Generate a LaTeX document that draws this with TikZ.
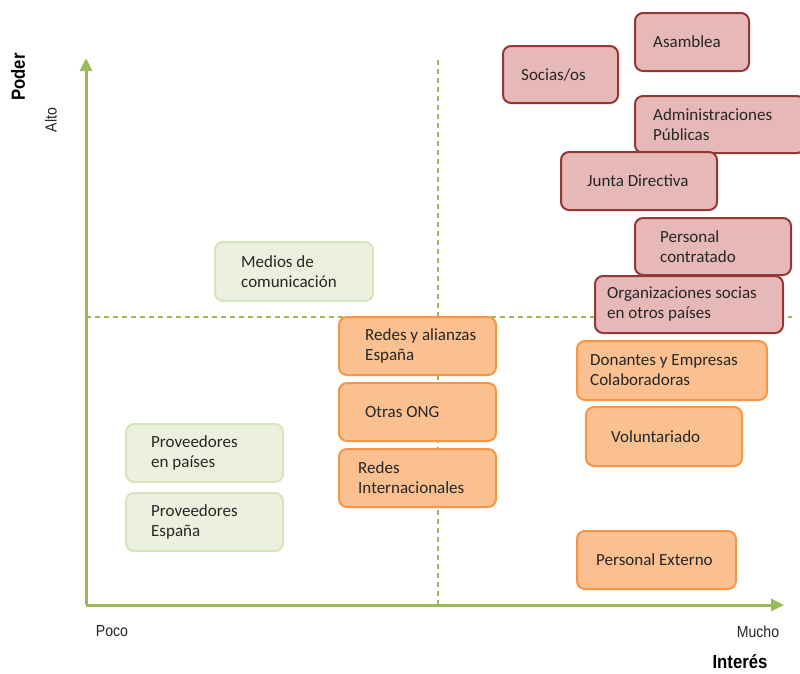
\documentclass[tikz,border=0pt]{standalone}
\usepackage{fontspec}
\setmainfont{Carlito}
\newfontfamily\axfont[FakeStretch=0.88]{Liberation Sans}
\usetikzlibrary{arrows.meta,calc}
\definecolor{redfill}{HTML}{E6B9B8}
\definecolor{redline}{HTML}{953735}
\definecolor{orfill}{HTML}{FAC090}
\definecolor{orline}{HTML}{F79646}
\definecolor{grfill}{HTML}{EBF1DE}
\definecolor{grline}{HTML}{D7E4BD}
\definecolor{axgreen}{HTML}{9BBB59}
\definecolor{txtcol}{HTML}{262626}
\tikzset{
  box/.style={draw, line width=2pt, rounded corners=8pt, anchor=north west, inner sep=0pt},
  redbox/.style={box, fill=redfill, draw=redline},
  orbox/.style={box, fill=orfill, draw=orline},
  grbox/.style={box, fill=grfill, draw=grline},
  txt/.style={anchor=west, align=left, inner sep=0pt, font=\fontsize{17}{20}\selectfont, text=txtcol},
  ax/.style={line width=3pt, draw=axgreen, -{Triangle[length=13pt,width=12pt]}},
  guide/.style={draw=axgreen, line width=1.2pt, dash pattern=on 5pt off 4pt},
  axlab/.style={inner sep=0pt, text=txtcol, font=\axfont\fontsize{16}{18}\selectfont},
  axtitle/.style={inner sep=0pt, text=black, font=\axfont\bfseries\fontsize{19}{21}\selectfont}
}
\begin{document}
\begin{tikzpicture}[x=1pt,y=-1pt]
\useasboundingbox (0,0) rectangle (800,673);
% guides
\coordinate (o) at (86,605);
\coordinate (gl) at (86,317);
\coordinate (gr) at (792,317);
\coordinate (gt) at (438,60);
\coordinate (gb) at (438,605);
\draw[guide] (gl) -- (gr);
\draw[guide] (gt) -- (gb);
% axes
\coordinate (ytop) at (86,58);
\coordinate (xend) at (784,605);
\draw[ax] (o) -- (ytop);
\draw[ax] (o) -- (xend);
% labels
\node[axtitle, rotate=90] (poder) at (18,77) {Poder};
\node[axlab, rotate=90] (alto) at (51,120) {Alto};
\node[axlab] (poco) at (112,631) {Poco};
\node[axlab] (mucho) at (758,632) {Mucho};
\node[axtitle] (interes) at (740,662) {Interés};
% red boxes
\node[redbox, minimum width=114, minimum height=58] (asam) at (634,12) {};
\node[txt] (tasam) at ($(asam.west)+(19,0)$) {Asamblea};
\node[redbox, minimum width=115, minimum height=57] (socias) at (502,45) {};
\node[txt] (tsocias) at ($(socias.west)+(19,0)$) {Socias/os};
\node[redbox, minimum width=170, minimum height=57] (admin) at (634,95) {};
\node[txt] (tadmin) at ($(admin.west)+(19,0)$) {Administraciones\\Públicas};
\node[redbox, minimum width=156, minimum height=58] (junta) at (560,151) {};
\node[txt] (tjunta) at ($(junta.west)+(27,0)$) {Junta Directiva};
\node[redbox, minimum width=156, minimum height=57] (pcont) at (634,217) {};
\node[txt] (tpcont) at ($(pcont.west)+(26,0)$) {Personal\\contratado};
\node[redbox, minimum width=188, minimum height=57] (orgs) at (594,275) {};
\node[txt] (torgs) at ($(orgs.west)+(13,0)$) {Organizaciones socias\\en otros países};
% green boxes
\node[grbox, minimum width=158, minimum height=59] (medios) at (214,241) {};
\node[txt] (tmedios) at ($(medios.west)+(27,0)$) {Medios de\\comunicación};
\node[grbox, minimum width=157, minimum height=58] (provp) at (125,423) {};
\node[txt] (tprovp) at ($(provp.west)+(26,0)$) {Proveedores\\en países};
\node[grbox, minimum width=157, minimum height=58] (prove) at (125,492) {};
\node[txt] (tprove) at ($(prove.west)+(26,0)$) {Proveedores\\España};
% orange boxes
\node[orbox, minimum width=157, minimum height=58] (redes) at (338,316) {};
\node[txt] (tredes) at ($(redes.west)+(27,0)$) {Redes y alianzas\\España};
\node[orbox, minimum width=157, minimum height=58] (otras) at (338,382) {};
\node[txt] (totras) at ($(otras.west)+(27,0)$) {Otras ONG};
\node[orbox, minimum width=157, minimum height=58] (redint) at (338,448) {};
\node[txt] (tredint) at ($(redint.west)+(20,0)$) {Redes\\Internacionales};
\node[orbox, minimum width=190, minimum height=59] (donan) at (576,340) {};
\node[txt] (tdonan) at ($(donan.west)+(14,0)$) {Donantes y Empresas\\Colaboradoras};
\node[orbox, minimum width=156, minimum height=59] (volun) at (585,406) {};
\node[txt] (tvolun) at ($(volun.west)+(26,0)$) {Voluntariado};
\node[orbox, minimum width=159, minimum height=58] (pext) at (576,530) {};
\node[txt] (tpext) at ($(pext.west)+(20,0)$) {Personal Externo};
\end{tikzpicture}
\end{document}
